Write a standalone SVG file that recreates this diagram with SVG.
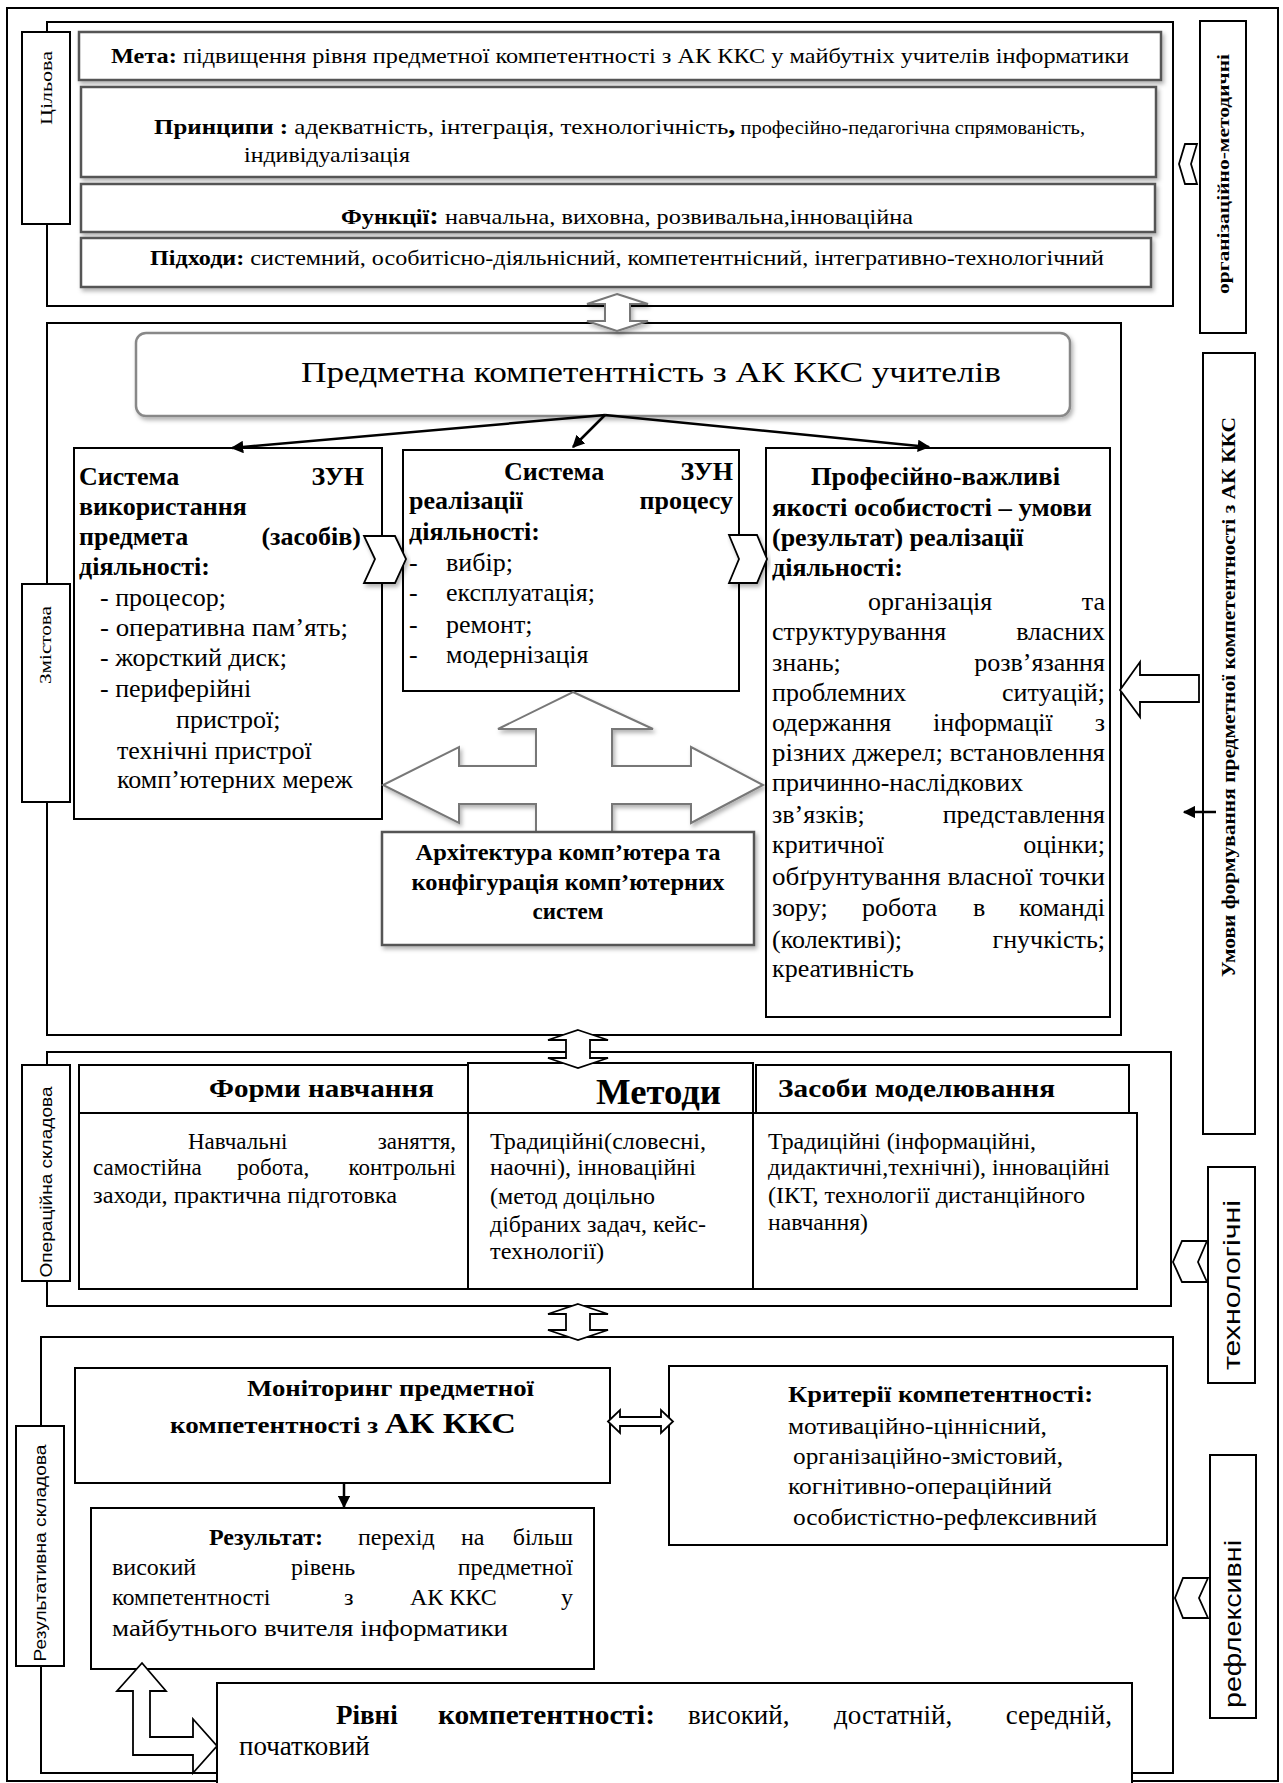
<svg xmlns="http://www.w3.org/2000/svg" width="1283" height="1783" viewBox="0 0 1283 1783">
<style>
.t{font-family:"Liberation Serif","Times New Roman",serif;fill:#000}
.sa{font-family:"Liberation Sans",Arial,sans-serif;fill:#000}
.b{font-weight:bold}
.frame{fill:none;stroke:#000;stroke-width:2}
.box{fill:#fff;stroke:#000;stroke-width:2}
.gbox{fill:#fff;stroke:#555;stroke-width:2.5;filter:url(#sh)}
.garrow{fill:#fff;stroke:#777;stroke-width:2;filter:url(#sh)}
.barrow{fill:#fff;stroke:#000;stroke-width:1.8}
.conn{stroke:#000;stroke-width:2.5;fill:none;marker-end:url(#ah)}
.f21{font-size:21px}.f22{font-size:22px}.f23{font-size:23px}.f24{font-size:24px}.f26{font-size:26px}
</style>
<defs>
<filter id="sh" x="-5%" y="-10%" width="115%" height="130%">
<feDropShadow dx="2" dy="3" stdDeviation="2" flood-color="#000" flood-opacity="0.3"/>
</filter>
<marker id="ah" viewBox="0 0 10 10" refX="9" refY="5" markerWidth="5" markerHeight="5" orient="auto" markerUnits="strokeWidth">
<path d="M0,0 L10,5 L0,10 z" fill="#000"/>
</marker>
</defs>
<rect x="0" y="0" width="1283" height="1783" fill="#fff"/>
<rect id="outer-frame" x="7" y="8" width="1271" height="1773" class="frame" stroke-width="1.5"/>

<!-- Section 1: Цільова -->
<g id="section-tsilova">
<rect x="47" y="22" width="1126" height="284" class="frame"/>
<rect x="22" y="32" width="48" height="192" class="box" stroke-width="1.8"/>
<text class="t" font-size="16" text-anchor="middle" transform="translate(47,88) rotate(-90)" dy="5" textLength="74" lengthAdjust="spacingAndGlyphs">Цільова</text>
</g>
<g id="node-meta">
<rect x="79" y="32" width="1082" height="48" class="gbox"/>
<text class="t f22" x="111" y="63" textLength="1018" lengthAdjust="spacingAndGlyphs"><tspan class="b">Мета:</tspan> підвищення рівня предметної компетентності з АК ККС у  майбутніх учителів інформатики</text>
</g>
<g id="node-pryntsypy">
<rect x="81" y="87" width="1075" height="90" class="gbox"/>
<text class="t f22" x="154" y="134" textLength="931" lengthAdjust="spacingAndGlyphs"><tspan class="b">Принципи :</tspan> адекватність, інтеграція, технологічність<tspan class="b" font-size="25">,</tspan><tspan font-size="18"> професійно-педагогічна спрямованість,</tspan></text>
<text class="t f22" x="244" y="162" textLength="166" lengthAdjust="spacingAndGlyphs">індивідуалізація</text>
</g>
<g id="node-funktsii">
<rect x="81" y="184" width="1074" height="48" class="gbox"/>
<text class="t f22" x="341" y="224" textLength="572" lengthAdjust="spacingAndGlyphs"><tspan class="b">Функції</tspan><tspan class="b" font-size="26">:</tspan>  навчальна, виховна, розвивальна,інноваційна</text>
</g>
<g id="node-pidkhody">
<rect x="81" y="238" width="1070" height="49" class="gbox"/>
<text class="t f22" x="150" y="265" textLength="954" lengthAdjust="spacingAndGlyphs"><tspan class="b">Підходи:</tspan> системний, особитісно-діяльнісний, компетентнісний, інтегративно-технологічний</text>
</g>

<!-- Right strip -->
<g id="node-org-metod">
<rect x="1200" y="21" width="46" height="312" class="box"/>
<text class="t b" font-size="17" text-anchor="middle" transform="translate(1223,174) rotate(-90)" dy="6" textLength="240" lengthAdjust="spacingAndGlyphs">організаційно-методичні</text>
</g>
<g id="node-umovy">
<rect x="1203" y="353" width="52" height="781" class="box"/>
<text class="t b" font-size="18" text-anchor="middle" transform="translate(1229,697) rotate(-90)" dy="6" textLength="560" lengthAdjust="spacingAndGlyphs">Умови формування предметної компетентності з АК ККС</text>
</g>
<g id="node-tekhnolohichni">
<rect x="1208" y="1167" width="47" height="216" class="box"/>
<text class="sa" font-size="24" text-anchor="middle" transform="translate(1232,1285) rotate(-90)" dy="8" textLength="170" lengthAdjust="spacingAndGlyphs">технологічні</text>
</g>
<g id="node-refleksyvni">
<rect x="1210" y="1455" width="46" height="263" class="box"/>
<text class="sa" font-size="24" text-anchor="middle" transform="translate(1233,1624) rotate(-90)" dy="8" textLength="168" lengthAdjust="spacingAndGlyphs">рефлексивні</text>
</g>

<!-- Section 2: Змістова -->
<g id="section-zmistova">
<rect x="47" y="323" width="1074" height="712" class="frame"/>
<rect x="22" y="584" width="48" height="218" class="box" stroke-width="1.8"/>
<text class="t" font-size="16" text-anchor="middle" transform="translate(46,645) rotate(-90)" dy="5" textLength="78" lengthAdjust="spacingAndGlyphs">Змістова</text>
</g>
<g id="node-predmetna">
<rect x="136" y="333" width="934" height="83" rx="10" ry="10" fill="#fff" stroke="#888" stroke-width="2.5" filter="url(#sh)"/>
<text class="t" font-size="30" x="301" y="382" textLength="700" lengthAdjust="spacingAndGlyphs">Предметна компетентність  з АК ККС учителів</text>
</g>
<g id="node-zun-vykorystannia">
<rect x="74" y="448" width="308" height="371" class="box"/>
<g class="t f26">
<text class="b" x="79" y="485">Система</text><text class="b" x="364" y="485" text-anchor="end">ЗУН</text>
<text class="b" x="79" y="515">використання</text>
<text class="b" x="79" y="545">предмета</text><text class="b" x="361" y="545" text-anchor="end">(засобів)</text>
<text class="b" x="79" y="575">діяльності:</text>
<text x="100" y="606">- процесор;</text>
<text x="100" y="636" textLength="248" lengthAdjust="spacingAndGlyphs">- оперативна пам’ять;</text>
<text x="100" y="666">- жорсткий диск;</text>
<text x="100" y="697">- периферійні</text>
<text x="176" y="728">пристрої;</text>
<text x="117" y="759">технічні пристрої</text>
<text x="117" y="788">комп’ютерних мереж</text>
</g>
</g>
<g id="node-zun-protsesu">
<rect x="403" y="450" width="336" height="241" class="box"/>
<g class="t f26">
<text class="b" x="504" y="480">Система</text><text class="b" x="733" y="480" text-anchor="end">ЗУН</text>
<text class="b" x="409" y="509">реалізації</text><text class="b" x="733" y="509" text-anchor="end">процесу</text>
<text class="b" x="409" y="540">діяльності:</text>
<text x="409" y="571">-</text><text x="446" y="571">вибір;</text>
<text x="409" y="601">-</text><text x="446" y="601">експлуатація;</text>
<text x="409" y="633">-</text><text x="446" y="633">ремонт;</text>
<text x="409" y="663">-</text><text x="446" y="663">модернізація</text>
</g>
</g>
<g id="node-yakosti">
<rect x="766" y="448" width="344" height="569" class="box"/>
<g class="t f26">
<text class="b" x="811" y="485" textLength="249" lengthAdjust="spacingAndGlyphs">Професійно-важливі</text>
<text class="b" x="772" y="516" textLength="320" lengthAdjust="spacingAndGlyphs">якості особистості – умови</text>
<text class="b" x="772" y="546">(результат) реалізації</text>
<text class="b" x="772" y="576">діяльності:</text>
<text x="868" y="610">організація</text><text x="1105" y="610" text-anchor="end">та</text>
<text x="772" y="640">структурування</text><text x="1105" y="640" text-anchor="end">власних</text>
<text x="772" y="671">знань;</text><text x="1105" y="671" text-anchor="end">розв’язання</text>
<text x="772" y="701">проблемних</text><text x="1105" y="701" text-anchor="end">ситуацій;</text>
<text x="772" y="731">одержання</text><text x="933" y="731">інформації</text><text x="1105" y="731" text-anchor="end">з</text>
<text x="772" y="761" textLength="333" lengthAdjust="spacingAndGlyphs">різних джерел; встановлення</text>
<text x="772" y="791">причинно-наслідкових</text>
<text x="772" y="823">зв’язків;</text><text x="1105" y="823" text-anchor="end">представлення</text>
<text x="772" y="853">критичної</text><text x="1105" y="853" text-anchor="end">оцінки;</text>
<text x="772" y="885" textLength="333" lengthAdjust="spacingAndGlyphs">обґрунтування власної точки</text>
<text x="772" y="916">зору;</text><text x="862" y="916">робота</text><text x="973" y="916">в</text><text x="1105" y="916" text-anchor="end">команді</text>
<text x="772" y="948">(колективі);</text><text x="1105" y="948" text-anchor="end">гнучкість;</text>
<text x="772" y="977">креативність</text>
</g>
</g>
<g id="node-arkhitektura">
<polygon class="garrow" points="573,692 653,729 612,729 612,766 691,766 691,747 763,785 691,823 691,804 612,804 612,835 536,835 536,804 459,804 459,823 383,785 459,747 459,766 536,766 536,729 498,729"/>
<rect x="382" y="832" width="372" height="113" class="gbox"/>
<g class="t b f23" text-anchor="middle">
<text x="568" y="860" textLength="305" lengthAdjust="spacingAndGlyphs">Архітектура комп’ютера та</text>
<text x="568" y="890" textLength="313" lengthAdjust="spacingAndGlyphs">конфігурація комп’ютерних</text>
<text x="568" y="919">систем</text>
</g>
</g>

<!-- Section 3: Операційна -->
<g id="section-operatsiina">
<rect x="47" y="1052" width="1124" height="254" class="frame"/>
<rect x="22" y="1065" width="48" height="216" class="box" stroke-width="1.8"/>
<text class="sa" font-size="16" text-anchor="middle" transform="translate(46,1182) rotate(-90)" dy="6" textLength="191" lengthAdjust="spacingAndGlyphs">Операційна складова</text>
</g>
<g id="node-formy">
<rect x="79" y="1065" width="389" height="48" class="box"/>
<rect x="79" y="1113" width="389" height="176" class="box"/>
<text class="t b" font-size="25" x="209" y="1097" textLength="225" lengthAdjust="spacingAndGlyphs">Форми навчання</text>
<g class="t f23">
<text x="188" y="1149">Навчальні</text><text x="456" y="1149" text-anchor="end">заняття,</text>
<text x="93" y="1175">самостійна</text><text x="237" y="1175">робота,</text><text x="456" y="1175" text-anchor="end">контрольні</text>
<text x="93" y="1203" textLength="304" lengthAdjust="spacingAndGlyphs">заходи, практична підготовка</text>
</g>
</g>
<g id="node-metody">
<rect x="468" y="1063" width="285" height="50" class="box"/>
<rect x="468" y="1113" width="285" height="176" class="box"/>
<text class="t b" font-size="35" x="596" y="1104" textLength="125" lengthAdjust="spacingAndGlyphs">Методи</text>
<g class="t f23">
<text x="490" y="1149" textLength="216" lengthAdjust="spacingAndGlyphs">Традиційні(словесні,</text>
<text x="490" y="1175" textLength="206" lengthAdjust="spacingAndGlyphs">наочні), інноваційні</text>
<text x="490" y="1204" textLength="165" lengthAdjust="spacingAndGlyphs">(метод доцільно</text>
<text x="490" y="1232" textLength="216" lengthAdjust="spacingAndGlyphs">дібраних задач, кейс-</text>
<text x="490" y="1259" textLength="114" lengthAdjust="spacingAndGlyphs">технології)</text>
</g>
</g>
<g id="node-zasoby">
<rect x="756" y="1065" width="373" height="48" class="box"/>
<rect x="753" y="1113" width="384" height="176" class="box"/>
<text class="t b" font-size="25" x="778" y="1097" textLength="277" lengthAdjust="spacingAndGlyphs">Засоби моделювання</text>
<g class="t f23">
<text x="768" y="1149" textLength="268" lengthAdjust="spacingAndGlyphs">Традиційні (інформаційні,</text>
<text x="768" y="1175" textLength="342" lengthAdjust="spacingAndGlyphs">дидактичні,технічні), інноваційні</text>
<text x="768" y="1203" textLength="317" lengthAdjust="spacingAndGlyphs">(ІКТ, технології дистанційного</text>
<text x="768" y="1230" textLength="100" lengthAdjust="spacingAndGlyphs">навчання)</text>
</g>
</g>

<!-- Section 4: Результативна -->
<g id="section-rezultatyvna">
<rect x="41" y="1337" width="1132" height="436" class="frame"/>
<rect x="16" y="1426" width="48" height="240" class="box" stroke-width="1.8"/>
<text class="sa" font-size="16" text-anchor="middle" transform="translate(40,1553) rotate(-90)" dy="6" textLength="217" lengthAdjust="spacingAndGlyphs">Результативна складова</text>
</g>
<g id="node-monitorynh">
<rect x="75" y="1368" width="535" height="115" class="box"/>
<text class="t b f23" x="247" y="1396" textLength="287" lengthAdjust="spacingAndGlyphs">Моніторинг предметної</text>
<text class="t b f23" x="170" y="1433" textLength="346" lengthAdjust="spacingAndGlyphs">компетентності  з <tspan font-size="29">АК ККС</tspan></text>
</g>
<g id="node-kryterii">
<rect x="669" y="1366" width="498" height="179" class="box"/>
<g class="t f23">
<text class="b" x="788" y="1402" textLength="305" lengthAdjust="spacingAndGlyphs">Критерії компетентності:</text>
<text x="788" y="1434" textLength="259" lengthAdjust="spacingAndGlyphs">мотиваційно-ціннісний,</text>
<text x="793" y="1464" textLength="270" lengthAdjust="spacingAndGlyphs">організаційно-змістовий,</text>
<text x="788" y="1494" textLength="264" lengthAdjust="spacingAndGlyphs">когнітивно-операційний</text>
<text x="793" y="1525" textLength="304" lengthAdjust="spacingAndGlyphs">особистістно-рефлексивний</text>
</g>
</g>
<g id="node-rezultat">
<rect x="91" y="1508" width="503" height="161" class="box"/>
<g class="t f24">
<text class="b" x="209" y="1545">Результат:</text><text x="358" y="1545">перехід</text><text x="461" y="1545">на</text><text x="573" y="1545" text-anchor="end">більш</text>
<text x="112" y="1575">високий</text><text x="291" y="1575">рівень</text><text x="573" y="1575" text-anchor="end">предметної</text>
<text x="112" y="1605">компетентності</text><text x="344" y="1605">з</text><text x="410" y="1605">АК ККС</text><text x="573" y="1605" text-anchor="end">у</text>
<text x="112" y="1636" textLength="396" lengthAdjust="spacingAndGlyphs">майбутнього вчителя інформатики</text>
</g>
</g>
<g id="node-rivni">
<path d="M217,1783 V1683 H1132 V1783" fill="#fff" stroke="#000" stroke-width="2"/>
<g class="t" font-size="27">
<text class="b" x="336" y="1724">Рівні</text>
<text class="b" x="438" y="1724" textLength="217" lengthAdjust="spacingAndGlyphs">компетентності:</text>
<text x="688" y="1724">високий,</text>
<text x="834" y="1724">достатній,</text>
<text x="1112" y="1724" text-anchor="end">середній,</text>
<text x="239" y="1755">початковий</text>
</g>
</g>

<!-- Connectors -->
<g id="connectors">
<line class="conn" x1="605" y1="415" x2="232" y2="448"/>
<line class="conn" x1="605" y1="415" x2="573" y2="447"/>
<line class="conn" x1="605" y1="415" x2="929" y2="447"/>
<line class="conn" x1="1216" y1="812" x2="1184" y2="812" stroke-width="3"/>
<line class="conn" x1="344" y1="1483" x2="344" y2="1507" stroke-width="2"/>
<polygon class="garrow" points="617,294 648,304 630,304 630,321 648,321 617,331 587,321 605,321 605,304 587,304"/>
<polygon class="barrow" points="578,1030 608,1040 590,1040 590,1058 608,1058 578,1068 548,1058 566,1058 566,1040 548,1040"/>
<polygon class="barrow" points="578,1304 608,1314 590,1314 590,1330 608,1330 578,1340 548,1330 566,1330 566,1314 548,1314"/>
<polygon class="barrow" points="608,1421.5 620,1410 620,1417 661,1417 661,1410 673,1421.5 661,1433 661,1426 620,1426 620,1433"/>
<polygon class="barrow" points="364,536 395,536 406,559 395,583 364,583 375,559" filter="url(#sh)"/>
<polygon class="barrow" points="729,535 757,535 767,559 757,583 729,583 739,559" filter="url(#sh)"/>
<polygon class="barrow" points="1120,690 1140,662 1140,675 1199,675 1199,702 1140,702 1140,717"/>
<polygon class="barrow" points="1197,144 1185,144 1179,164 1185,184 1197,184 1191,164"/>
<polygon class="barrow" points="1207,1241 1182,1241 1173,1262 1182,1282 1207,1282 1198,1262"/>
<polygon class="barrow" points="1208,1578 1183,1578 1175,1598 1183,1618 1208,1618 1199,1598"/>
<polygon class="barrow" points="142,1663 166,1691 150,1691 150,1737 193,1737 193,1719 217,1746 193,1773 193,1755 133,1755 133,1691 117,1691"/>
</g>
</svg>
